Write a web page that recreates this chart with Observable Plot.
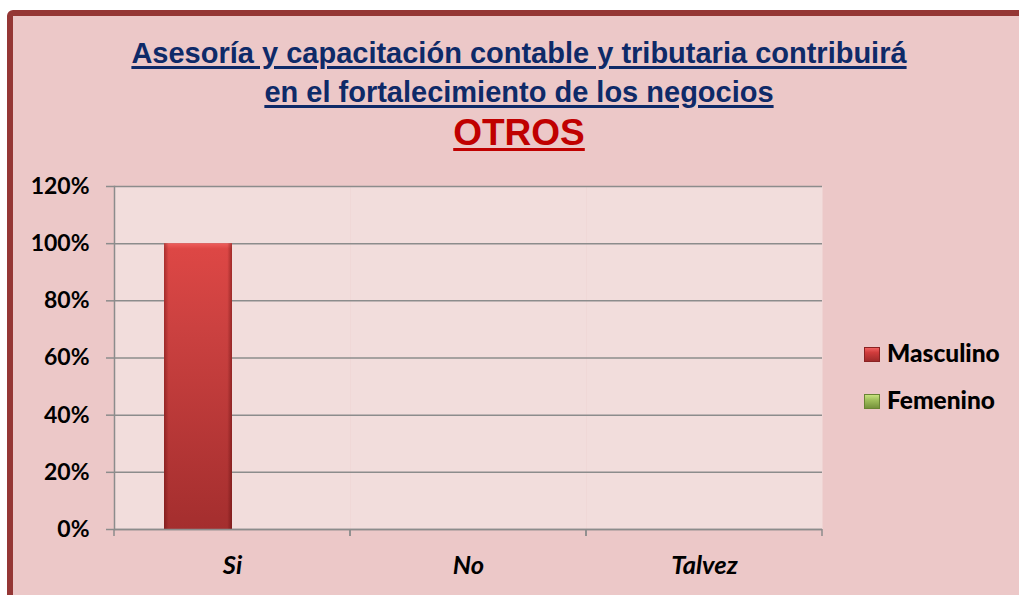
<!DOCTYPE html>
<html><head><meta charset="utf-8">
<script src="https://cdn.jsdelivr.net/npm/d3@7"></script>
<script src="https://cdn.jsdelivr.net/npm/@observablehq/plot@0.6"></script>
<style>
body{margin:0;background:#fff;width:1019px;height:595px;overflow:hidden;position:relative;font-family:Lato,sans-serif}
#frame{position:absolute;left:7px;top:10px;width:1040px;height:620px;border:6px solid #953735;border-radius:6px;background:#ECC8C8;box-sizing:border-box}
.t{position:absolute;left:0;width:1038px;text-align:center;font-family:"Liberation Sans",Arial,sans-serif;font-weight:bold;white-space:nowrap;text-decoration:underline}
#t1,#t2{font-size:29px;line-height:29px;color:#0E2A68;text-decoration-thickness:2.5px;text-underline-offset:3px}
#t1{top:39px}
#t2{top:78px}
#t3{top:114px;font-size:37px;line-height:37px;color:#C00000;text-decoration-thickness:3px;text-underline-offset:3px}
#chart{position:absolute;left:0;top:160px}
.leg{position:absolute;left:864px;font-family:Lato,sans-serif;font-weight:900;font-size:24.5px;line-height:24px;color:#000;white-space:nowrap}
.sw{position:absolute;left:0;width:16px;height:15px;box-sizing:border-box}
.leg span.l{position:absolute;left:23px;top:0}
</style>
</head><body>
<div id="frame"></div>
<div class="t" id="t1">Asesoría y capacitación contable y tributaria contribuirá</div>
<div class="t" id="t2">en el fortalecimiento de los negocios</div>
<div class="t" id="t3">OTROS</div>
<div id="chart"></div>
<div class="leg" style="top:341px"><div class="sw" style="top:6px;background:linear-gradient(#F06060,#D03C3C 35%,#A02A2A);border:1px solid #8a2222"></div><span class="l">Masculino</span></div>
<div class="leg" style="top:388px"><div class="sw" style="top:6px;background:linear-gradient(#C8E27E,#A3C25E 35%,#76923C);border:1px solid #6a8434"></div><span class="l">Femenino</span></div>
<script>
const categories = ["Si", "No", "Talvez"];
const series = ["Masculino", "Femenino"];
const masculino = [1.0, 0, 0];
const femenino = [0, 0, 0];
const yTicks = [0, 0.2, 0.4, 0.6, 0.8, 1.0, 1.2];

const data = categories.flatMap((c, i) => [
  {cat: c, serie: "Masculino", value: masculino[i]},
  {cat: c, serie: "Femenino", value: femenino[i]}
]);

const gridColor = "#8c8c8c";

function boundaryTicks(index, scales, values, dims) {
  const g = d3.create("svg:g");
  const y0 = dims.height - dims.marginBottom;
  for (const x of [dims.marginLeft, dims.width - dims.marginRight]) {
    g.append("line").attr("x1", x).attr("x2", x).attr("y1", y0).attr("y2", y0 + 7)
      .attr("stroke", gridColor).attr("stroke-width", 1.5);
  }
  return g.node();
}

const chart = Plot.plot({
  width: 1019, height: 429,
  marginLeft: 113, marginRight: 197, marginTop: 26, marginBottom: 60,
  style: {background: "transparent", fontFamily: "Lato, sans-serif", overflow: "visible"},
  fx: {domain: categories, padding: 0, label: null},
  x: {domain: series, paddingInner: 0, paddingOuter: 0.725, axis: null},
  y: {domain: [0, 1.2], label: null},
  color: {domain: series, range: ["url(#gM)", "url(#gF)"]},
  marks: [
    Plot.frame({fill: "#F2DDDC"}),
    Plot.gridY(yTicks, {stroke: gridColor, strokeOpacity: 1, strokeWidth: 1.5}),
    Plot.barY(data, {fx: "cat", x: "serie", y: "value", fill: "serie"}),
    Plot.barY(data, {fx: "cat", x: "serie", y: "value", fill: "url(#gSide)"}),
    Plot.frame({anchor: "left", facetAnchor: "left", stroke: gridColor, strokeWidth: 1.5}),
    Plot.ruleY([0], {stroke: gridColor, strokeWidth: 1.5}),
    boundaryTicks,
    Plot.axisY({ticks: yTicks, tickFormat: d => Math.round(d * 100) + "%", tickSize: 8, tickPadding: 17,
      stroke: gridColor, strokeWidth: 1.5, fill: "#000", fontSize: 23, fontWeight: "bold", label: null}),
    Plot.axisFx({anchor: "bottom", tickSize: 0, tickPadding: 26, fill: "#000", fontSize: 25.5, fontWeight: "bold", fontStyle: "italic", label: null})
  ]
});

const svg = d3.select(chart);
const defs = svg.insert("defs", ":first-child");
const gM = defs.append("linearGradient").attr("id", "gM").attr("x1", 0).attr("x2", 0).attr("y1", 0).attr("y2", 1);
[[0, "#EE5E5C"], [0.02, "#DD4745"], [0.3, "#CB4140"], [1, "#A42E2E"]].forEach(([o, c]) => gM.append("stop").attr("offset", o).attr("stop-color", c));
const gF = defs.append("linearGradient").attr("id", "gF").attr("x1", 0).attr("x2", 0).attr("y1", 0).attr("y2", 1);
[[0, "#C8E27E"], [0.25, "#A3C25E"], [1, "#76923C"]].forEach(([o, c]) => gF.append("stop").attr("offset", o).attr("stop-color", c));
const gS = defs.append("linearGradient").attr("id", "gSide").attr("x1", 0).attr("x2", 1).attr("y1", 0).attr("y2", 0);
[[0, "rgba(70,0,0,0.35)"], [0.07, "rgba(70,0,0,0)"], [0.93, "rgba(70,0,0,0)"], [1, "rgba(70,0,0,0.4)"]].forEach(([o, c]) => gS.append("stop").attr("offset", o).attr("stop-color", c));

document.getElementById("chart").appendChild(chart);
</script>
</body></html>
